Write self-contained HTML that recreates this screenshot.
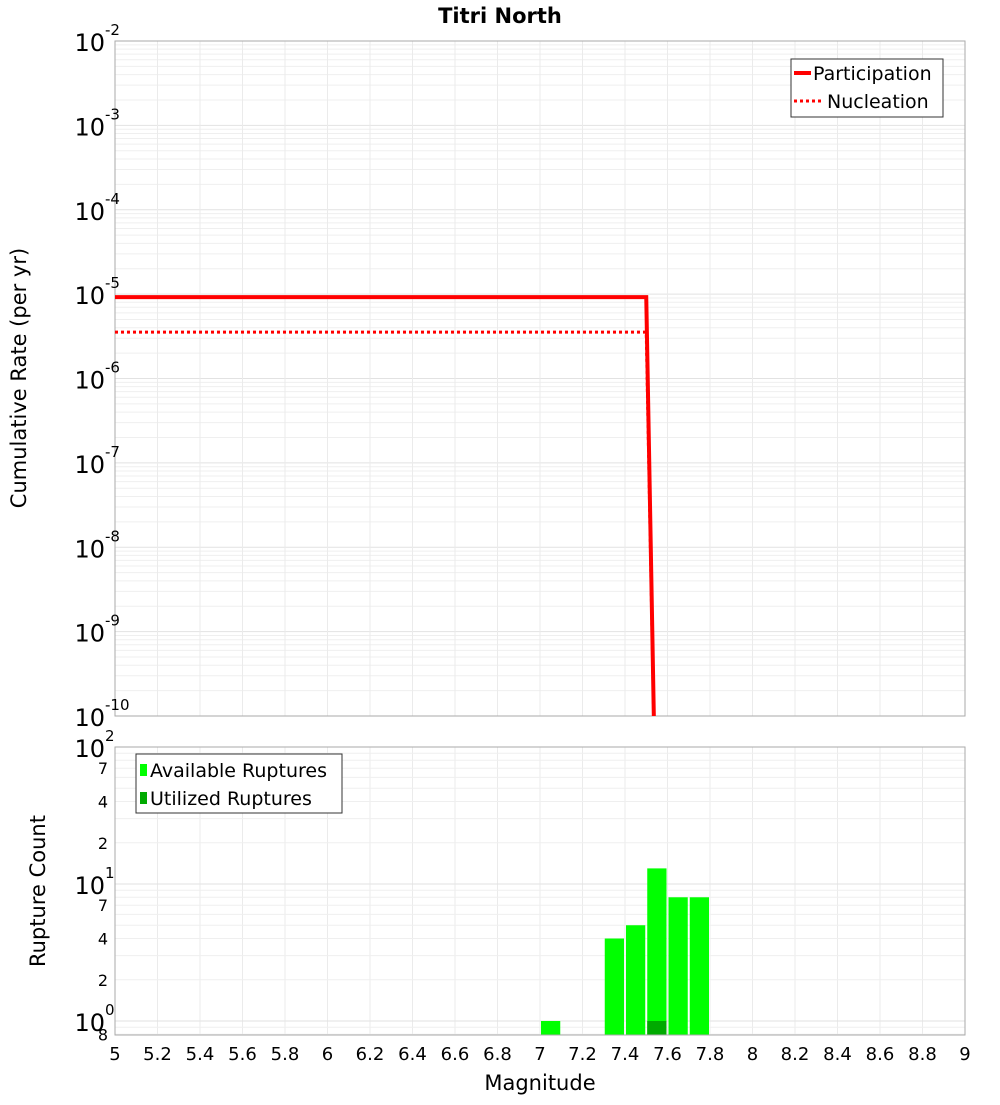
<!DOCTYPE html>
<html><head><meta charset="utf-8"><style>
body{margin:0;background:#fff;font-family:"Liberation Sans","DejaVu Sans",sans-serif}
svg text{font-family:"DejaVu Sans","Liberation Sans",sans-serif}
</style></head><body>
<svg id="c" width="1000" height="1100" xmlns="http://www.w3.org/2000/svg">
<rect width="1000" height="1100" fill="#fff"/>
<text x="500" y="23" text-anchor="middle" font-size="21" font-weight="bold">Titri North</text>
<g id="top"></g>
<g id="bot"></g>
<text x="540" y="1090" text-anchor="middle" font-size="21">Magnitude</text>
<text transform="translate(26,378) rotate(-90)" text-anchor="middle" font-size="21">Cumulative Rate (per yr)</text>
<text transform="translate(45,891) rotate(-90)" text-anchor="middle" font-size="21">Rupture Count</text>
</svg>
<script>
const partMags=[5.0,7.5,7.55];
const partRates=[9.2e-6,9.2e-6,1e-12];
const nuclMags=[5.0,7.5,7.55];
const nuclRates=[3.55e-6,3.55e-6,1e-12];
const binCenters=[7.05,7.35,7.45,7.55,7.65,7.75];
const availCounts=[1,4,5,13,8,8];
const utilCenters=[7.55];
const utilCounts=[1];
const xTicks=[5,5.2,5.4,5.6,5.8,6,6.2,6.4,6.6,6.8,7,7.2,7.4,7.6,7.8,8,8.2,8.4,8.6,8.8,9];
const topExps=[-2,-3,-4,-5,-6,-7,-8,-9,-10];
const botExps=[2,1,0];

const NS="http://www.w3.org/2000/svg";
const L=115,R=965;
const X=m=>L+(m-5)/4*(R-L);
const T0=41,T1=716;
const YT=v=>T0+(-2-Math.log10(v))/8*(T1-T0);
const B0=747,B1=1035,BD=137;
const YB=v=>1021-Math.log10(v)*BD;
function mk(p,tag,a){const e=document.createElementNS(NS,tag);for(const k in a)e.setAttribute(k,a[k]);p.appendChild(e);return e;}
const topG=document.getElementById('top'),botG=document.getElementById('bot');
const defs=mk(document.getElementById('c'),'defs',{});
const cp1=mk(defs,'clipPath',{id:'cp1'});mk(cp1,'rect',{x:L,y:T0,width:R-L,height:T1-T0});
for(let e=-10;e<-2;e++)for(let k=1;k<10;k++){const y=YT(k*Math.pow(10,e));const g=mk(topG,'line',{x1:L,x2:R,y1:y,y2:y,stroke:k==1?'#e2e2e2':'#efefef','stroke-width':1});

}
for(const t of xTicks){const x=X(t);const g=mk(topG,'line',{x1:x,x2:x,y1:T0,y2:T1,stroke:'#ebebeb'});


const g2=mk(botG,'line',{x1:x,x2:x,y1:B0,y2:B1,stroke:'#ebebeb'});

}
mk(topG,'rect',{x:L,y:T0,width:R-L,height:T1-T0,fill:'none',stroke:'#aaa'});
for(const e of topExps){const y=YT(Math.pow(10,e));const t=mk(topG,'text',{x:105,y:y+10,'text-anchor':'end','font-size':24});


t.textContent='10';const s=mk(topG,'text',{x:105,y:y-6,'font-size':15});s.textContent=String(e);

}
function line(mags,rates,dash,name){const p=mk(topG,'polyline',{points:mags.map((m,i)=>X(m)+','+YT(rates[i])).join(' '),fill:'none',stroke:'#ff0000','stroke-width':dash?3:4,'clip-path':'url(#cp1)'});if(dash)p.setAttribute('stroke-dasharray','3,3');

}
line(nuclMags,nuclRates,true,'nucleation-line');
line(partMags,partRates,false,'participation-line');
const lg=mk(topG,'g',{});
mk(lg,'rect',{x:791,y:59,width:152,height:58,fill:'#fff',stroke:'#333'});
mk(lg,'line',{x1:794,x2:811,y1:73,y2:73,stroke:'#f00','stroke-width':4});
mk(lg,'line',{x1:794,x2:822,y1:101,y2:101,stroke:'#f00','stroke-width':3,'stroke-dasharray':'3,3'});
let t=mk(lg,'text',{x:813,y:80,'font-size':19});t.textContent='Participation';
t=mk(lg,'text',{x:827,y:108,'font-size':19});t.textContent='Nucleation';
for(let e=-1;e<2;e++)for(let k=1;k<10;k++){const v=k*Math.pow(10,e);const y=YB(v);if(y>B1||y<B0)continue;const g=mk(botG,'line',{x1:L,x2:R,y1:y,y2:y,stroke:k==1?'#e2e2e2':'#efefef'});

}
const bw=(X(5.1)-X(5))-2;
binCenters.forEach((c,i)=>{const y=YB(availCounts[i]);const r=mk(botG,'rect',{x:X(c-0.05)+1,y:y,width:bw,height:B1-y,fill:'#00ff00'});

});
utilCenters.forEach((c,i)=>{const y=YB(utilCounts[i]);const r=mk(botG,'rect',{x:X(c-0.05)+1,y:y,width:bw,height:B1-y,fill:'#00aa00'});

});
mk(botG,'rect',{x:L,y:B0,width:R-L,height:B1-B0,fill:'none',stroke:'#aaa'});
for(const e of botExps){const y=YB(Math.pow(10,e));const t=mk(botG,'text',{x:105,y:y+10,'text-anchor':'end','font-size':24});t.textContent='10';


const s=mk(botG,'text',{x:105,y:y-6,'font-size':15});s.textContent=String(e);}
for(const v of [70,40,20,7,4,2,0.8]){const y=YB(v);const t=mk(botG,'text',{x:108,y:y+6,'text-anchor':'end','font-size':16});t.textContent=String(v<1?8:v%10==0?v/10:v);

}
for(const x of xTicks){const t=mk(botG,'text',{x:X(x),y:1060,'text-anchor':'middle','font-size':18});t.textContent=String(x);

}
const lb=mk(botG,'g',{});
mk(lb,'rect',{x:136,y:754,width:206,height:59,fill:'#fff',stroke:'#333'});
mk(lb,'rect',{x:140,y:764,width:7,height:12,fill:'#00ff00'});
mk(lb,'rect',{x:140,y:792,width:7,height:12,fill:'#00aa00'});
t=mk(lb,'text',{x:150,y:777,'font-size':19});t.textContent='Available Ruptures';
t=mk(lb,'text',{x:150,y:805,'font-size':19});t.textContent='Utilized Ruptures';
</script>
</body></html>
